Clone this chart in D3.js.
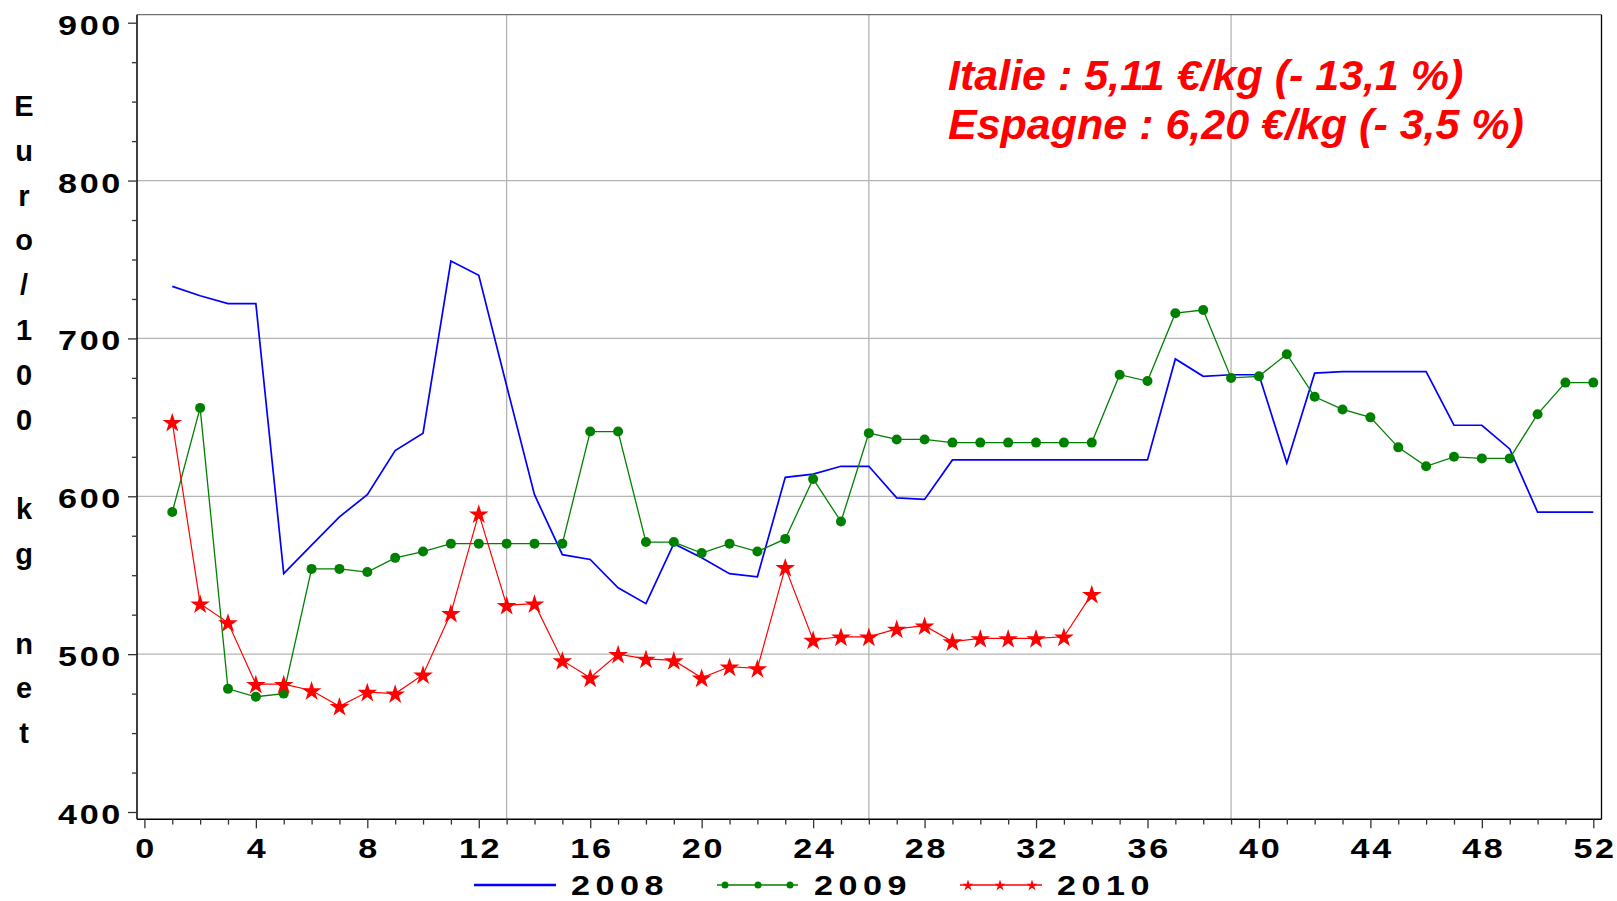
<!DOCTYPE html>
<html>
<head>
<meta charset="utf-8">
<script src="https://cdn.jsdelivr.net/npm/d3@7"></script>
<style>
  html, body { margin: 0; padding: 0; background: #fff; }
  svg { display: block; }
  .lbl { font-family: "Liberation Sans", Arial, sans-serif; font-weight: bold; }
</style>
</head>
<body>
<svg id="chart" width="1617" height="901"></svg>
<script>
// weekly prices, euro / 100 kg net (week 1 .. n)
var prix2008 = [733, 727, 722, 722, 551, 569, 587, 601, 629, 640, 749, 740, 670, 601, 563, 560, 542, 532, 570, 561,
    551, 549, 612, 614, 619, 619, 599, 598, 623, 623, 623, 623, 623, 623, 623, 623, 687, 676, 677, 677,
    621, 678, 679, 679, 679, 679, 645, 645, 630, 590, 590, 590]
var prix2009 = [590, 656, 478, 473, 475, 554, 554, 552, 561, 565, 570, 570, 570, 570, 570, 641, 641, 571, 571, 564,
    570, 565, 573, 611, 584, 640, 636, 636, 634, 634, 634, 634, 634, 634, 677, 673, 716, 718, 675, 676,
    690, 663, 655, 650, 631, 619, 625, 624, 624, 652, 672, 672]
var prix2010 = [647, 532, 520, 481, 481, 477, 467, 476, 475, 487, 526, 589, 531, 532, 496, 485, 500, 497, 496, 485,
    492, 491, 555, 509, 511, 511, 516, 518, 508, 510, 510, 510, 511, 538]

var xLabelWeeks = [0, 4, 8, 12, 16, 20, 24, 28, 32, 36, 40, 44, 48, 52]
var yLabelValues = [400, 500, 600, 700, 800, 900]
var gridWeeks = [13, 26, 39]
var gridValues = [500, 600, 700, 800]
var yTitle = "Euro/100 kg net"
var notes = ["Italie : 5,11 €/kg (- 13,1 %)", "Espagne : 6,20 €/kg (- 3,5 %)"]
var legendLabels = ["2008", "2009", "2010"]

var svg = d3.select("#chart")
var frame = { left: 137, right: 1601.5, top: 14.7, bottom: 819.3 }

var x = d3.scaleLinear().domain([0, 52]).range([144.4, 1593.3])
var y = d3.scaleLinear().domain([400, 900]).range([812, 22.7])

// grid
svg.append("g").selectAll("line").data(gridValues).enter().append("line")
    .attr("x1", frame.left).attr("x2", frame.right)
    .attr("y1", d => y(d)).attr("y2", d => y(d))
    .attr("stroke", "#b4b4b4").attr("stroke-width", 1.3)
svg.append("g").selectAll("line").data(gridWeeks).enter().append("line")
    .attr("x1", d => x(d)).attr("x2", d => x(d))
    .attr("y1", frame.top).attr("y2", frame.bottom)
    .attr("stroke", "#b4b4b4").attr("stroke-width", 1.3)

// frame
svg.append("line").attr("x1", frame.left).attr("x2", frame.right).attr("y1", frame.top).attr("y2", frame.top)
    .attr("stroke", "#707070").attr("stroke-width", 1.3)
svg.append("line").attr("x1", frame.right).attr("x2", frame.right).attr("y1", frame.top).attr("y2", frame.bottom)
    .attr("stroke", "#000").attr("stroke-width", 1.3)
svg.append("line").attr("x1", frame.left).attr("x2", frame.left).attr("y1", frame.top).attr("y2", frame.bottom)
    .attr("stroke", "#000").attr("stroke-width", 1.5)
svg.append("line").attr("x1", frame.left).attr("x2", frame.right).attr("y1", frame.bottom).attr("y2", frame.bottom)
    .attr("stroke", "#000").attr("stroke-width", 1.5)

// y axis (minor ticks every 25)
var yAxis = svg.append("g").attr("transform", "translate(" + frame.left + ",0)")
    .call(d3.axisLeft(y).tickValues(d3.range(400, 901, 25)).tickSize(9)
        .tickFormat(d => yLabelValues.indexOf(d) >= 0 ? d : ""))
yAxis.select(".domain").remove()
yAxis.selectAll(".tick line")
    .attr("x2", d => d % 100 == 0 ? -9 : -5)
    .attr("stroke", "#333").attr("stroke-width", 1.3)
yAxis.selectAll(".tick text")
    .attr("class", "lbl").attr("x", 0).attr("y", 11.5).attr("dy", null)
    .attr("transform", "translate(-14,0) scale(1.22,1)")
    .attr("fill", "#000")
    .style("font-size", "28px").style("letter-spacing", "2.2px")

// x axis (minor ticks every week)
var xAxis = svg.append("g").attr("transform", "translate(0," + frame.bottom + ")")
    .call(d3.axisBottom(x).tickValues(d3.range(0, 53)).tickSize(9)
        .tickFormat(d => xLabelWeeks.indexOf(d) >= 0 ? d : ""))
xAxis.select(".domain").remove()
xAxis.selectAll(".tick line")
    .attr("y2", d => d % 4 == 0 ? 9 : 5.3)
    .attr("stroke", "#333").attr("stroke-width", 1.3)
xAxis.selectAll(".tick text")
    .attr("class", "lbl").attr("y", 39).attr("dy", null)
    .attr("transform", "translate(1.3,0) scale(1.22,1)")
    .attr("fill", "#000")
    .style("font-size", "28px").style("letter-spacing", "2.2px")

// y title, one character per line
svg.append("g").selectAll("text").data(yTitle.split("")).enter().append("text")
    .attr("class", "lbl")
    .attr("x", 24).attr("y", (d, i) => 116 + i * 44.8)
    .attr("text-anchor", "middle")
    .style("font-size", "29px")
    .text(d => d)

// series
var line = d3.line().x((d, i) => x(i + 1)).y(d => y(d))

svg.append("path").datum(prix2008).attr("d", line)
    .attr("fill", "none").attr("stroke", "#0000ff").attr("stroke-width", 1.7)

svg.append("path").datum(prix2009).attr("d", line)
    .attr("fill", "none").attr("stroke", "#008000").attr("stroke-width", 1.3)
svg.append("g").selectAll("circle").data(prix2009).enter().append("circle")
    .attr("cx", (d, i) => x(i + 1)).attr("cy", d => y(d)).attr("r", 5)
    .attr("fill", "#008000")

var star = d3.symbol().type(d3.symbolStar)
svg.append("path").datum(prix2010).attr("d", line)
    .attr("fill", "none").attr("stroke", "#ff0000").attr("stroke-width", 1.2)
svg.append("g").selectAll("path").data(prix2010).enter().append("path")
    .attr("d", star.size(120))
    .attr("transform", (d, i) => "translate(" + x(i + 1) + "," + (y(d) + 1) + ")")
    .attr("fill", "#ff0000")

// notes
svg.append("g").selectAll("text").data(notes).enter().append("text")
    .attr("x", 948).attr("y", (d, i) => 89.7 + i * 49.3)
    .attr("fill", "#ff0000")
    .style("font-family", "'Liberation Sans', Arial, sans-serif")
    .style("font-weight", "bold").style("font-style", "italic")
    .style("font-size", "43px")
    .text(d => d)

// legend
var legendY = 885
var lg = svg.append("g")
lg.append("line").attr("x1", 474).attr("x2", 556).attr("y1", legendY).attr("y2", legendY)
    .attr("stroke", "#0000ff").attr("stroke-width", 2.5)
lg.append("line").attr("x1", 717).attr("x2", 798).attr("y1", legendY).attr("y2", legendY)
    .attr("stroke", "#008000").attr("stroke-width", 1.5)
lg.selectAll("circle").data([725, 758, 790]).enter().append("circle")
    .attr("cx", d => d).attr("cy", legendY).attr("r", 3.5).attr("fill", "#008000")
lg.append("line").attr("x1", 960).attr("x2", 1042).attr("y1", legendY).attr("y2", legendY)
    .attr("stroke", "#ff0000").attr("stroke-width", 1.5)
lg.selectAll("path.st").data([968, 1000, 1032]).enter().append("path")
    .attr("class", "st")
    .attr("d", star.size(40))
    .attr("transform", d => "translate(" + d + "," + (legendY + 0.5) + ")")
    .attr("fill", "#ff0000")
lg.selectAll("text").data(legendLabels).enter().append("text")
    .attr("class", "lbl")
    .attr("x", 0).attr("y", 0)
    .attr("transform", (d, i) => "translate(" + [571, 814, 1057][i] + ",895) scale(1.22,1)")
    .style("font-size", "28px").style("letter-spacing", "4.5px")
    .text(d => d)
</script>
</body>
</html>
